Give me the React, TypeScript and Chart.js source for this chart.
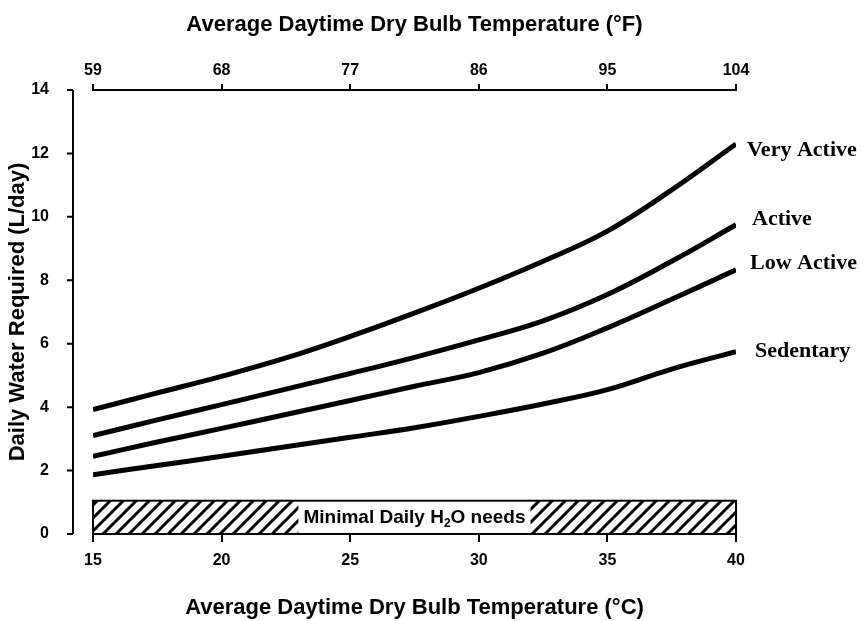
import React, { useEffect, useRef } from 'react';
import { Chart, registerables } from 'chart.js';

Chart.register(...registerables);

// ---------- data ----------
const tempsC = [15, 17.5, 20, 22.5, 25, 27.5, 30, 32.5, 35, 37.5, 40];
const veryActive = [3.92, 4.45, 4.97, 5.55, 6.23, 6.97, 7.75, 8.6, 9.55, 10.85, 12.3];
const active = [3.1, 3.6, 4.08, 4.57, 5.06, 5.57, 6.12, 6.72, 7.55, 8.6, 9.75];
const lowActive = [2.45, 2.9, 3.33, 3.77, 4.21, 4.66, 5.09, 5.7, 6.5, 7.4, 8.33];
const sedentary = [1.87, 2.16, 2.45, 2.75, 3.05, 3.35, 3.71, 4.1, 4.55, 5.2, 5.75];
const seriesNames = ['Very Active', 'Active', 'Low Active', 'Sedentary'];
const seriesValues = [veryActive, active, lowActive, sedentary];

const cTicks = [15, 20, 25, 30, 35, 40];
const fTicks = [59, 68, 77, 86, 95, 104];
const yTicks = [0, 2, 4, 6, 8, 10, 12, 14];

const minimalNeed = 1.05;
const minimalLabelMain = 'Minimal Daily H';
const minimalLabelSub = '2';
const minimalLabelEnd = 'O needs';

const xTitleBottom = 'Average Daytime Dry Bulb Temperature (°C)';
const xTitleTop = 'Average Daytime Dry Bulb Temperature (°F)';
const yTitle = 'Daily Water Required (L/day)';

// ---------- styles ----------
const SANS = '"Liberation Sans", Arial, sans-serif';
const SERIF = '"Liberation Serif", "Times New Roman", serif';
const labelOffsets = [
  { dx: 11, dy: 6 },
  { dx: 16, dy: -5 },
  { dx: 14, dy: -7 },
  { dx: 19, dy: 0 },
];

function makeHatch(ctx: CanvasRenderingContext2D): CanvasPattern | string {
  const s = 13;
  const c = document.createElement('canvas');
  c.width = s;
  c.height = s;
  const g = c.getContext('2d');
  if (!g) return '#fff';
  g.fillStyle = '#fff';
  g.fillRect(0, 0, s, s);
  g.strokeStyle = '#000';
  g.lineWidth = 3;
  g.beginPath();
  g.moveTo(-2, 2); g.lineTo(2, -2);
  g.moveTo(0, s); g.lineTo(s, 0);
  g.moveTo(s - 2, s + 2); g.lineTo(s + 2, s - 2);
  g.stroke();
  return ctx.createPattern(c, 'repeat') || '#fff';
}

const overlayPlugin = {
  id: 'overlay',
  beforeDatasetsDraw(chart: any) {
    const { ctx, chartArea, scales } = chart;
    const xs = scales.x;
    const ys = scales.y;
    const x0 = xs.getPixelForValue(cTicks[0]);
    const x1 = xs.getPixelForValue(cTicks[cTicks.length - 1]);
    const yb = ys.getPixelForValue(0);
    const yt = ys.getPixelForValue(minimalNeed);
    ctx.save();
    // hatched box
    ctx.fillStyle = makeHatch(ctx);
    ctx.fillRect(x0, yt, x1 - x0, yb - yt);
    // label
    const fs = 19;
    const subFs = 12;
    ctx.font = `bold ${fs}px ${SANS}`;
    const w1 = ctx.measureText(minimalLabelMain).width;
    const w3 = ctx.measureText(minimalLabelEnd).width;
    ctx.font = `bold ${subFs}px ${SANS}`;
    const w2 = ctx.measureText(minimalLabelSub).width;
    const total = w1 + w2 + w3;
    const cx = (x0 + x1) / 2;
    const cy = (yt + yb) / 2;
    const padX = 5;
    ctx.fillStyle = '#fff';
    ctx.fillRect(cx - total / 2 - padX, yt, total + padX * 2, yb - yt);
    ctx.strokeStyle = '#000';
    ctx.lineWidth = 2;
    ctx.strokeRect(x0, yt, x1 - x0, yb - yt);
    ctx.fillStyle = '#000';
    ctx.textBaseline = 'middle';
    ctx.textAlign = 'left';
    let tx = cx - total / 2;
    ctx.font = `bold ${fs}px ${SANS}`;
    ctx.fillText(minimalLabelMain, tx, cy);
    tx += w1;
    ctx.font = `bold ${subFs}px ${SANS}`;
    ctx.fillText(minimalLabelSub, tx, cy + 6);
    tx += w2;
    ctx.font = `bold ${fs}px ${SANS}`;
    ctx.fillText(minimalLabelEnd, tx, cy);

    // detached y axis line
    const ax = chartArea.left - 20;
    ctx.strokeStyle = '#000';
    ctx.lineWidth = 2;
    ctx.beginPath();
    ctx.moveTo(ax, ys.getPixelForValue(yTicks[yTicks.length - 1]));
    ctx.lineTo(ax, ys.getPixelForValue(yTicks[0]));
    ctx.stroke();
    ctx.beginPath();
    yTicks.forEach((v) => {
      const py = ys.getPixelForValue(v);
      ctx.moveTo(ax - 6, py);
      ctx.lineTo(ax, py);
    });
    ctx.stroke();
    ctx.restore();
  },
  afterDatasetsDraw(chart: any) {
    const { ctx } = chart;
    ctx.save();
    ctx.fillStyle = '#000';
    ctx.font = `bold 22px ${SERIF}`;
    ctx.textAlign = 'left';
    ctx.textBaseline = 'middle';
    chart.data.datasets.forEach((ds: any, i: number) => {
      const meta = chart.getDatasetMeta(i);
      const last = meta.data[meta.data.length - 1];
      if (!last) return;
      const off = labelOffsets[i];
      ctx.fillText(ds.label, last.x + off.dx, last.y + off.dy);
    });
    ctx.restore();
  },
};

export default function App() {
  const ref = useRef<HTMLCanvasElement | null>(null);
  useEffect(() => {
    if (!ref.current) return;
    const tickFont = { family: SANS, size: 16, weight: 'bold' as const };
    const titleFont = { family: SANS, size: 22, weight: 'bold' as const };
    const chart = new Chart(ref.current, {
      type: 'line',
      data: {
        datasets: seriesNames.map((name, i) => ({
          label: name,
          data: tempsC.map((t, j) => ({ x: t, y: seriesValues[i][j] })),
          borderColor: '#000',
          borderWidth: 5,
          pointRadius: 0,
          tension: 0.4,
          fill: false,
          xAxisID: 'x',
          yAxisID: 'y',
        })),
      },
      options: {
        animation: false,
        responsive: false,
        layout: { padding: { left: 0, right: 131, top: 0, bottom: 0 } },
        plugins: {
          legend: { display: false },
          tooltip: { enabled: false },
        },
        scales: {
          x: {
            type: 'linear',
            position: 'bottom',
            min: cTicks[0],
            max: cTicks[cTicks.length - 1],
            afterBuildTicks: (s: any) => { s.ticks = cTicks.map((v) => ({ value: v })); },
            afterFit: (s: any) => { s.height = 87; },
            grid: { drawOnChartArea: false, tickLength: 8, color: '#000', lineWidth: 2 },
            border: { display: true, color: '#000', width: 2 },
            ticks: { color: '#000', font: tickFont, padding: 9, maxRotation: 0 },
            title: { display: true, text: xTitleBottom, color: '#000', font: titleFont, padding: { top: 0, bottom: 0 } },
          },
          x2: {
            type: 'linear',
            position: 'top',
            min: fTicks[0],
            max: fTicks[fTicks.length - 1],
            afterBuildTicks: (s: any) => { s.ticks = fTicks.map((v) => ({ value: v })); },
            afterFit: (s: any) => { s.height = 90; },
            grid: { drawOnChartArea: false, tickLength: 6, color: '#000', lineWidth: 2 },
            border: { display: true, color: '#000', width: 2 },
            ticks: { color: '#000', font: tickFont, padding: 4, maxRotation: 0 },
            title: { display: true, text: xTitleTop, color: '#000', font: titleFont, padding: { top: 12, bottom: 0 } },
          },
          y: {
            type: 'linear',
            position: 'left',
            min: yTicks[0],
            max: yTicks[yTicks.length - 1],
            afterBuildTicks: (s: any) => { s.ticks = yTicks.map((v) => ({ value: v })); },
            afterFit: (s: any) => { s.width = 93; },
            grid: { display: false },
            border: { display: false },
            ticks: { color: '#000', font: tickFont, padding: 36 },
            title: { display: true, text: yTitle, color: '#000', font: titleFont, padding: { top: 5, bottom: 0 } },
          },
        },
      },
      plugins: [overlayPlugin],
    });
    return () => chart.destroy();
  }, []);
  return (
    <div style={{ position: 'fixed', left: 0, top: 0, width: 867, height: 621, background: '#fff' }}>
      <canvas ref={ref} width={867} height={621} style={{ width: 867, height: 621, display: 'block' }} />
    </div>
  );
}
